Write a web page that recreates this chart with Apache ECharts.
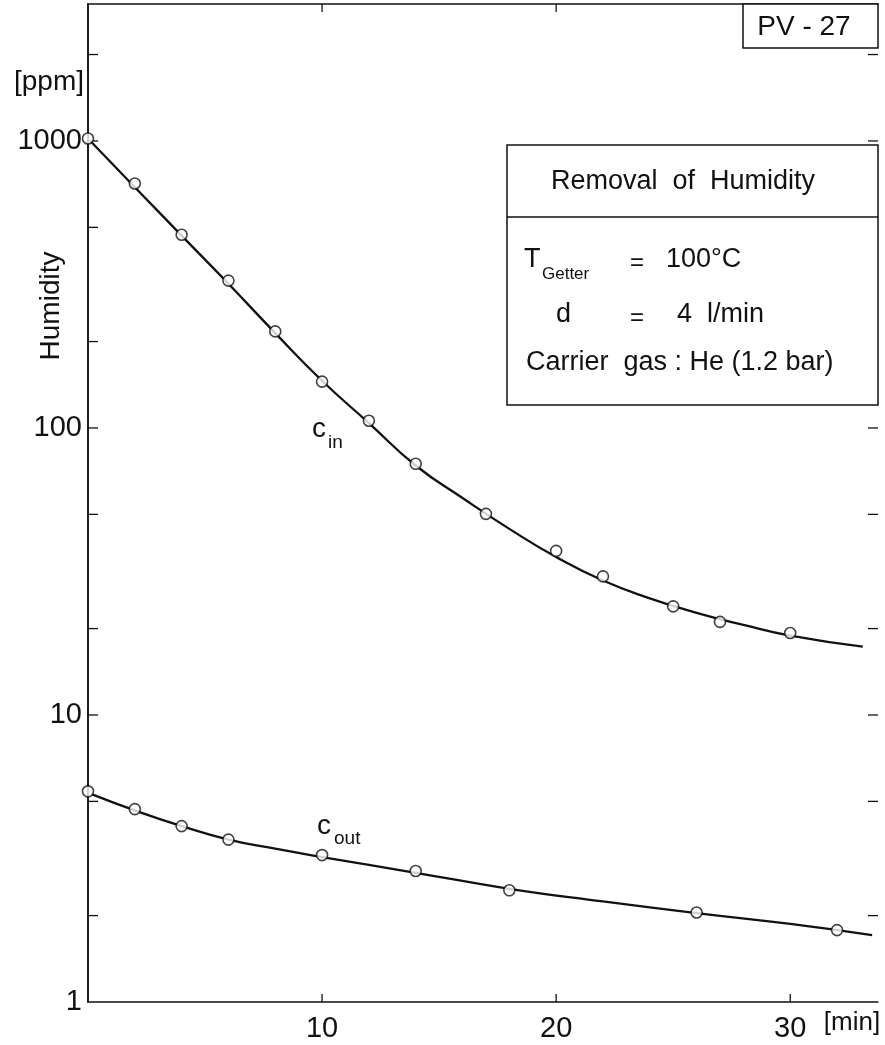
<!DOCTYPE html>
<html>
<head>
<meta charset="utf-8">
<script src="https://cdn.jsdelivr.net/npm/echarts@6/dist/echarts.min.js"></script>
<style>
html, body { margin: 0; padding: 0; background: #fff; }
#main { width: 885px; height: 1045px; }
</style>
</head>
<body>
<div id="main"></div>
<script>
// measured points, time in min, humidity in ppm
var timesIn = [0, 2, 4, 6, 8, 10, 12, 14, 17, 20, 22, 25, 27, 30];
var cIn = [1020, 711, 471, 326, 217, 145, 106, 75, 50.2, 37.3, 30.4, 23.9, 21.1, 19.3];
var timesOut = [0, 2, 4, 6, 10, 14, 18, 26, 32];
var cOut = [5.42, 4.70, 4.10, 3.68, 3.25, 2.86, 2.45, 2.05, 1.78];

// fitted curves
var fitInT = [0.1, 2, 4, 6, 8, 10, 12, 14, 16, 18, 20, 22, 24, 26, 28, 30, 33.1];
var fitInV = [1000, 690, 468, 318, 214, 146, 104, 74, 57, 44.5, 35.5, 29.4, 25.5, 22.7, 20.6, 18.9, 17.3];
var fitOutT = [0.15, 2, 4, 6, 8, 10, 14, 18, 22, 26, 30, 33.5];
var fitOutV = [5.3, 4.65, 4.1, 3.68, 3.42, 3.2, 2.82, 2.48, 2.24, 2.04, 1.87, 1.71];

// ticks
var xTicks = [10, 20, 30];
var yTicks = [2, 5, 10, 20, 50, 100, 200, 500, 1000, 2000];
var xMin = 0, xMax = 33.75, yMin = 1, yMax = 3000;

function pairs(xs, ys) {
    return xs.map(function (x, i) { return [x, ys[i]]; });
}

var chart = echarts.init(document.getElementById('main'));
var font = "'Liberation Sans', Arial, sans-serif";
var ink = '#111';
var tickStyle = { stroke: ink, lineWidth: 1.3 };

var option = {
    backgroundColor: '#fff',
    animation: false,
    grid: { left: 88, right: 7, top: 4, bottom: 43 },
    xAxis: [
        {
            type: 'value', min: xMin, max: xMax, interval: 10,
            axisLine: { lineStyle: { color: ink, width: 1.5 } },
            axisTick: { show: false },
            splitLine: { show: false },
            axisLabel: {
                showMinLabel: false, showMaxLabel: false, margin: 12,
                color: ink, fontSize: 29, fontFamily: font,
                formatter: function (v) { return xTicks.indexOf(v) >= 0 ? String(v) : ''; }
            }
        },
        {
            type: 'value', position: 'top', min: xMin, max: xMax, interval: 10,
            axisLine: { lineStyle: { color: ink, width: 1.5 } },
            axisTick: { show: false },
            axisLabel: { show: false }, splitLine: { show: false }
        }
    ],
    yAxis: [
        {
            type: 'log', logBase: 10, min: yMin, max: yMax,
            axisLine: { show: true, lineStyle: { color: ink, width: 1.5 } },
            axisTick: { show: false },
            splitLine: { show: false },
            axisLabel: {
                showMaxLabel: false, margin: 6,
                color: ink, fontSize: 29, fontFamily: font,
                formatter: function (v) { return String(Math.round(v)); }
            }
        },
        {
            type: 'log', logBase: 10, min: yMin, max: yMax, position: 'right',
            axisLine: { show: true, lineStyle: { color: ink, width: 1.5 } },
            axisTick: { show: false },
            axisLabel: { show: false }, splitLine: { show: false }
        }
    ],
    series: [
        {
            // y ticks, pointing inward on both sides
            type: 'custom',
            data: yTicks.map(function (v) { return [xMin, v]; }),
            silent: true,
            renderItem: function (params, api) {
                var v = api.value(1);
                var l = api.coord([xMin, v]);
                var r = api.coord([xMax, v]);
                return {
                    type: 'group',
                    children: [
                        { type: 'line', shape: { x1: l[0], y1: l[1], x2: l[0] + 10, y2: l[1] }, style: tickStyle },
                        { type: 'line', shape: { x1: r[0], y1: r[1], x2: r[0] - 10, y2: r[1] }, style: tickStyle }
                    ]
                };
            }
        },
        {
            // x ticks, pointing inward at bottom and top
            type: 'custom',
            data: xTicks.map(function (v) { return [v, yMin]; }),
            silent: true,
            renderItem: function (params, api) {
                var v = api.value(0);
                var b = api.coord([v, yMin]);
                var t = api.coord([v, yMax]);
                return {
                    type: 'group',
                    children: [
                        { type: 'line', shape: { x1: b[0], y1: b[1], x2: b[0], y2: b[1] - 8 }, style: tickStyle },
                        { type: 'line', shape: { x1: t[0], y1: t[1], x2: t[0], y2: t[1] + 8 }, style: tickStyle }
                    ]
                };
            }
        },
        {
            name: 'c_in fit', type: 'line', smooth: true, showSymbol: false,
            lineStyle: { color: ink, width: 2.3 },
            data: pairs(fitInT, fitInV)
        },
        {
            name: 'c_out fit', type: 'line', smooth: true, showSymbol: false,
            lineStyle: { color: ink, width: 2.3 },
            data: pairs(fitOutT, fitOutV)
        },
        {
            name: 'c_in', type: 'scatter', symbol: 'circle', symbolSize: 11, z: 5,
            itemStyle: { color: '#fff', borderColor: ink, borderWidth: 1.6 },
            data: pairs(timesIn, cIn)
        },
        {
            name: 'c_out', type: 'scatter', symbol: 'circle', symbolSize: 11, z: 5,
            itemStyle: { color: '#fff', borderColor: ink, borderWidth: 1.6 },
            data: pairs(timesOut, cOut)
        }
    ],
    graphic: [
        // boxes
        { type: 'rect', shape: { x: 743, y: 4, width: 135, height: 44 }, style: { fill: '#fff', stroke: ink, lineWidth: 1.5 }, z: 10 },
        { type: 'rect', shape: { x: 507, y: 145, width: 371, height: 260 }, style: { fill: '#fff', stroke: ink, lineWidth: 1.5 }, z: 10 },
        { type: 'line', shape: { x1: 507, y1: 217, x2: 878, y2: 217 }, style: { stroke: ink, lineWidth: 1.5 }, z: 11 },
        // texts
        { type: 'text', x: 804, y: 27, z: 12, style: { text: 'PV - 27', fill: ink, font: '28px ' + font, align: 'center', verticalAlign: 'middle' } },
        { type: 'text', x: 683, y: 182, z: 12, style: { text: 'Removal  of  Humidity', fill: ink, font: '27px ' + font, align: 'center', verticalAlign: 'middle' } },
        { type: 'text', x: 524, y: 260, z: 12, style: { text: 'T', fill: ink, font: '27px ' + font, align: 'left', verticalAlign: 'middle' } },
        { type: 'text', x: 542, y: 274, z: 12, style: { text: 'Getter', fill: ink, font: '17px ' + font, align: 'left', verticalAlign: 'middle' } },
        { type: 'text', x: 637, y: 263, z: 12, style: { text: '=', fill: ink, font: '24px ' + font, align: 'center', verticalAlign: 'middle' } },
        { type: 'text', x: 666, y: 260, z: 12, style: { text: '100°C', fill: ink, font: '27px ' + font, align: 'left', verticalAlign: 'middle' } },
        { type: 'text', x: 556, y: 315, z: 12, style: { text: 'd', fill: ink, font: '27px ' + font, align: 'left', verticalAlign: 'middle' } },
        { type: 'text', x: 637, y: 318, z: 12, style: { text: '=', fill: ink, font: '24px ' + font, align: 'center', verticalAlign: 'middle' } },
        { type: 'text', x: 677, y: 315, z: 12, style: { text: '4  l/min', fill: ink, font: '27px ' + font, align: 'left', verticalAlign: 'middle' } },
        { type: 'text', x: 526, y: 363, z: 12, style: { text: 'Carrier  gas : He (1.2 bar)', fill: ink, font: '27px ' + font, align: 'left', verticalAlign: 'middle' } },
        // axis names
        { type: 'text', x: 49, y: 82, style: { text: '[ppm]', fill: ink, font: '28px ' + font, align: 'center', verticalAlign: 'middle' } },
        { type: 'text', x: 51, y: 306, rotation: Math.PI / 2, style: { text: 'Humidity', fill: ink, font: '28px ' + font, align: 'center', verticalAlign: 'middle' } },
        { type: 'text', x: 852, y: 1023, style: { text: '[min]', fill: ink, font: '26px ' + font, align: 'center', verticalAlign: 'middle' } },
        // curve labels
        { type: 'text', x: 312, y: 429, style: { text: 'c', fill: ink, font: '28px ' + font, align: 'left', verticalAlign: 'middle' } },
        { type: 'text', x: 328, y: 443, style: { text: 'in', fill: ink, font: '19px ' + font, align: 'left', verticalAlign: 'middle' } },
        { type: 'text', x: 317, y: 826, style: { text: 'c', fill: ink, font: '28px ' + font, align: 'left', verticalAlign: 'middle' } },
        { type: 'text', x: 334, y: 839, style: { text: 'out', fill: ink, font: '19px ' + font, align: 'left', verticalAlign: 'middle' } }
    ]
};

chart.setOption(option);
</script>
</body>
</html>
